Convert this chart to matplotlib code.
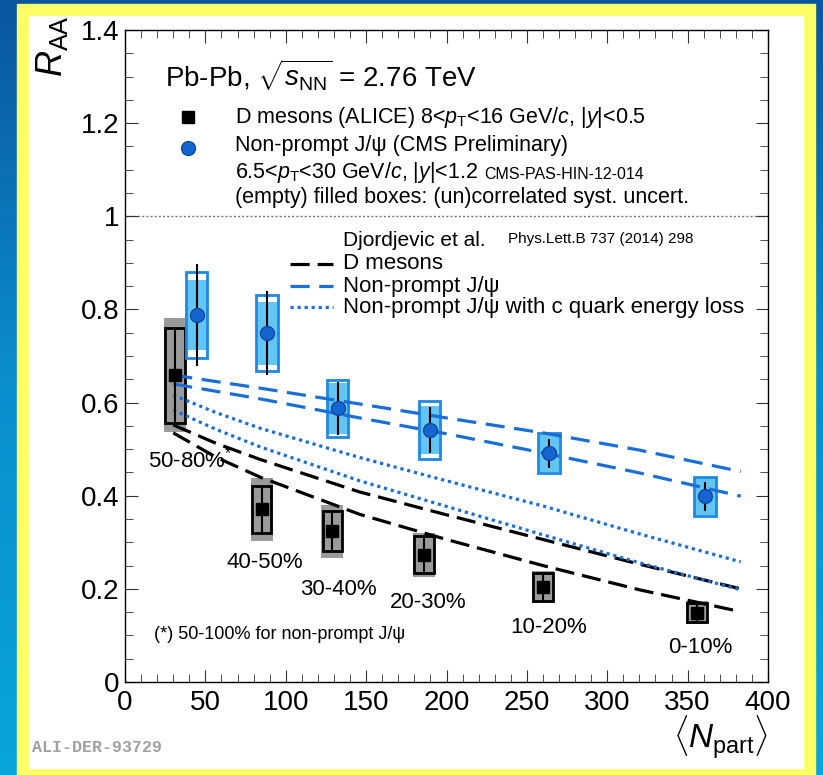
import numpy as np
import matplotlib
matplotlib.use('Agg')
import matplotlib.pyplot as plt
from matplotlib.colors import LinearSegmentedColormap
from matplotlib.patches import Rectangle
from matplotlib.ticker import MultipleLocator, FuncFormatter

plt.rcParams['font.family'] = ['Liberation Sans', 'DejaVu Sans']
plt.rcParams['mathtext.fontset'] = 'custom'
plt.rcParams['mathtext.rm'] = 'Liberation Sans'
plt.rcParams['mathtext.it'] = 'Liberation Sans:italic'
plt.rcParams['mathtext.bf'] = 'Liberation Sans:bold'

# D mesons (ALICE), 8<pT<16 GeV/c
npart_d = [31, 85, 129, 186, 260, 356]
raa_d = [0.659, 0.371, 0.324, 0.273, 0.204, 0.149]
stat_d = [0.100, 0.050, 0.043, 0.040, 0.031, 0.021]
uncor_d = [0.102, 0.050, 0.043, 0.040, 0.031, 0.021]
cor_d = [0.122, 0.068, 0.057, 0.047, 0.035, 0.025]
cent_labels = ['50-80%$^{*}$', '40-50%', '30-40%', '20-30%', '10-20%', '0-10%']

# non-prompt J/psi (CMS preliminary)
npart_j = [44.6, 88.3, 132.2, 189.5, 263.8, 360.8]
raa_j = [0.788, 0.749, 0.588, 0.541, 0.491, 0.399]
stat_j = [0.110, 0.090, 0.057, 0.050, 0.031, 0.031]
uncor_j = [0.092, 0.082, 0.061, 0.0625, 0.043, 0.042]
cor_j = [0.076, 0.068, 0.055, 0.052, 0.040, 0.040]

# Djordjevic et al. model bands
npart_model = [30, 57, 84, 146, 200, 260, 320, 383]
npj_hi = [0.659, 0.645, 0.631, 0.597, 0.567, 0.535, 0.498, 0.452]
npj_lo = [0.640, 0.624, 0.608, 0.567, 0.533, 0.492, 0.449, 0.399]
npj_eloss_hi = [0.616, 0.578, 0.545, 0.482, 0.432, 0.378, 0.318, 0.258]
npj_eloss_lo = [0.584, 0.542, 0.505, 0.432, 0.377, 0.316, 0.256, 0.198]
dmes_hi = [0.552, 0.512, 0.478, 0.408, 0.359, 0.306, 0.253, 0.200]
dmes_lo = [0.535, 0.482, 0.440, 0.360, 0.306, 0.250, 0.198, 0.151]

W, H = 823, 775
def fx(px): return px / W
def fy(py): return 1 - py / H

BLUE = '#1a6fd6'
fig = plt.figure(figsize=(8.23, 7.75), dpi=100)

# slide background: blue gradient, yellow frame, white panel
bg = fig.add_axes([0, 0, 1, 1], zorder=-1)
grad = np.linspace(0, 1, 256).reshape(-1, 1)
cmap = LinearSegmentedColormap.from_list('bg', ['#0b56a0', '#0a8fcf', '#09a5dc'])
bg.imshow(grad, aspect='auto', extent=[0, 1, 0, 1], cmap=cmap, origin='upper')
bg.add_patch(Rectangle((fx(17), 0), fx(815) - fx(17), fy(4), color='#fdfd66',
                       transform=bg.transAxes))
bg.add_patch(Rectangle((fx(29), fy(768)), fx(803) - fx(29), fy(16) - fy(768),
                       color='white', transform=bg.transAxes))
bg.set_xlim(0, 1); bg.set_ylim(0, 1)
bg.axis('off')

ax = fig.add_axes([fx(125), fy(682), fx(768) - fx(125), fy(30) - fy(682)])
ax.set_xlim(0, 400)
ax.set_ylim(0, 1.4)

rd, cd, ud, sd = map(np.array, (raa_d, cor_d, uncor_d, stat_d))
rj, cj, uj, sj = map(np.array, (raa_j, cor_j, uncor_j, stat_j))

# systematic boxes
ax.bar(npart_d, 2 * cd, bottom=rd - cd, width=13.7, color='#9a9a9a', lw=0, zorder=2)
ax.bar(npart_d, 2 * ud, bottom=rd - ud, width=12.2, facecolor='none',
       edgecolor='black', lw=2, zorder=3)
ax.bar(npart_j, 2 * uj, bottom=rj - uj, width=13.4, facecolor='white', lw=0, zorder=2)
ax.bar(npart_j, 2 * cj, bottom=rj - cj, width=13.4, facecolor='#63c5f3', lw=0, zorder=2.5)
ax.bar(npart_j, 2 * uj, bottom=rj - uj, width=13.4, facecolor='none',
       edgecolor='#1e88e5', lw=2, zorder=3)

# model curves
for y in (dmes_hi, dmes_lo):
    ax.plot(npart_model, y, color='black', lw=2.3, dashes=(6, 2.5), zorder=4)
for y in (npj_hi, npj_lo):
    ax.plot(npart_model, y, color=BLUE, lw=2.3, dashes=(6, 3), zorder=4)
for y in (npj_eloss_hi, npj_eloss_lo):
    ax.plot(npart_model, y, color=BLUE, lw=2.3, dashes=(1, 1.2), zorder=4)

# data points
ax.errorbar(npart_d, rd, yerr=sd, fmt='none', ecolor='black', elinewidth=1.5, zorder=5)
ax.plot(npart_d, rd, 's', color='black', ms=9, zorder=6)
ax.errorbar(npart_j, rj, yerr=sj, xerr=4, fmt='none', ecolor='black', elinewidth=1.5, zorder=5)
ax.plot(npart_j, rj, 'o', color='#1565d0', mec='#0d47a1', mew=1, ms=10, zorder=6)

ax.axhline(1, color='#777777', lw=1, ls=(0, (1.5, 1.5)), zorder=1)

# centrality labels
label_pos = [(14.3, 0.477, 'left'), (87.0, 0.256, 'center'), (132.5, 0.198, 'center'),
             (188.5, 0.170, 'center'), (263.8, 0.116, 'center'), (357.7, 0.075, 'center')]
for (lx, ly, ha), lab in zip(label_pos, cent_labels):
    ax.text(lx, ly, lab, fontsize=16, ha=ha, va='center', zorder=7)

ax.text(18.0, 0.101, '(*) 50-100% for non-prompt J/ψ', fontsize=13, va='center')

# legend block
ax.text(24.9, 1.303, r'Pb-Pb, $\sqrt{s_{\rm NN}}$ = 2.76 TeV', fontsize=20, va='center')
ax.plot([39.2], [1.213], 's', color='black', ms=9, clip_on=False)
ax.text(68.4, 1.213, r'D mesons (ALICE) 8<$p_{\rm T}$<16 GeV/$c$, |$y$|<0.5',
        fontsize=15.5, va='center')
ax.plot([39.2], [1.147], 'o', color='#1565d0', mec='#0d47a1', ms=10)
ax.text(68.4, 1.151, 'Non-prompt J/ψ (CMS Preliminary)', fontsize=15.5, va='center')
ax.text(68.4, 1.095, r'6.5<$p_{\rm T}$<30 GeV/$c$, |$y$|<1.2', fontsize=15.5, va='center')
ax.text(223.3, 1.090, 'CMS-PAS-HIN-12-014', fontsize=11.5, va='center')
ax.text(68.4, 1.041, '(empty) filled boxes: (un)correlated syst. uncert.',
        fontsize=15.5, va='center')

ax.text(135.6, 0.949, 'Djordjevic et al.', fontsize=15, va='center')
ax.text(238.3, 0.952, 'Phys.Lett.B 737 (2014) 298', fontsize=11, va='center')
leg_items = [('D mesons', 'black', (6, 2.5), 0.898),
             ('Non-prompt J/ψ', BLUE, (6, 3), 0.850),
             ('Non-prompt J/ψ with c quark energy loss', BLUE, (1, 1.2), 0.805)]
for name, col, dsh, ly in leg_items:
    ax.plot([102.6, 129.4], [ly, ly], color=col, lw=2.3, dashes=dsh)
    ax.text(135.6, ly, name, fontsize=16, va='center')

# axes styling
ax.xaxis.set_major_locator(MultipleLocator(50))
ax.xaxis.set_minor_locator(MultipleLocator(10))
ax.yaxis.set_major_locator(MultipleLocator(0.2))
ax.yaxis.set_minor_locator(MultipleLocator(0.05))
ax.yaxis.set_major_formatter(FuncFormatter(lambda v, p: f'{v:g}'))
ax.tick_params(which='both', direction='in', top=True, right=True, color='#333333',
               labelsize=20)
ax.tick_params(which='major', length=9)
ax.tick_params(which='minor', length=5.5)
ax.tick_params(axis='y', pad=4)
ax.tick_params(axis='x', pad=6)
for s in ax.spines.values():
    s.set_linewidth(1.0)

fig.text(fx(52), fy(15), r'$R_{\rm AA}$', rotation=90, ha='center', va='top', fontsize=26)
fig.text(fx(768), fy(714), r'$\langle N_{\rm part}\rangle$', ha='right', va='top', fontsize=24)
fig.text(fx(32), fy(748), 'ALI-DER-93729', family='Liberation Mono', weight='bold',
         color='#a0a0a0', fontsize=12, va='center')

fig.savefig('out.png', dpi=100)
